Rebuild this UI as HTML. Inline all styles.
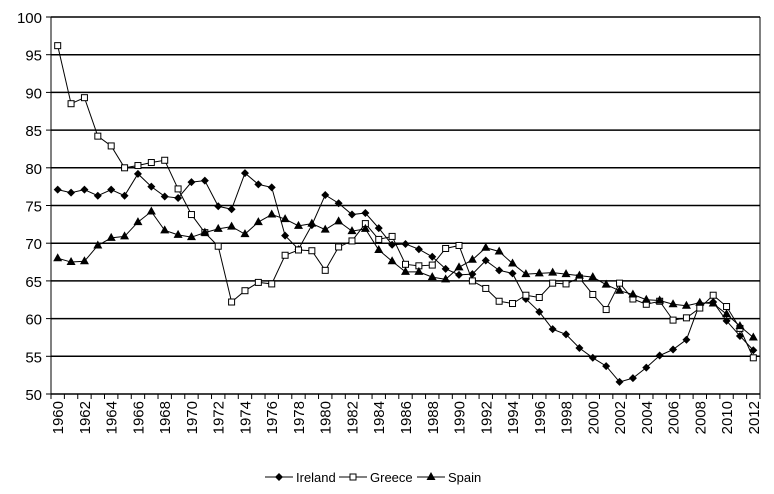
<!DOCTYPE html>
<html><head><meta charset="utf-8"><style>body{margin:0;background:#fff}svg{display:block;font-family:"Liberation Sans",sans-serif}</style></head>
<body>
<svg id="c" width="774" height="494"></svg>
<script>
const years=[];for(let y=1960;y<=2012;y++)years.push(y);
const yTicks=[50,55,60,65,70,75,80,85,90,95,100];
const ireland=[77.1,76.7,77.1,76.3,77.1,76.3,79.2,77.5,76.2,76.0,78.1,78.3,74.9,74.5,79.3,77.8,77.4,71.0,69.2,72.4,76.4,75.3,73.8,74.0,72.0,69.8,69.9,69.2,68.2,66.6,65.8,65.9,67.7,66.4,66.0,62.6,60.9,58.6,57.9,56.1,54.8,53.7,51.6,52.1,53.5,55.1,55.9,57.2,62.0,62.2,59.7,57.7,55.8];
const greece=[96.2,88.5,89.3,84.2,82.9,80.0,80.3,80.7,81.0,77.2,73.8,71.4,69.6,62.2,63.7,64.8,64.6,68.4,69.1,69.0,66.4,69.5,70.3,72.6,70.5,70.9,67.2,67.0,67.1,69.3,69.7,65.0,64.0,62.3,62.0,63.1,62.8,64.7,64.6,65.4,63.2,61.2,64.7,62.6,61.9,62.3,59.8,60.1,61.4,63.1,61.6,58.7,54.8];
const spain=[68.0,67.5,67.6,69.7,70.7,70.9,72.8,74.2,71.7,71.1,70.8,71.4,71.9,72.2,71.2,72.8,73.8,73.2,72.3,72.6,71.8,72.9,71.6,71.9,69.1,67.6,66.2,66.2,65.5,65.2,66.8,67.8,69.4,68.9,67.3,65.9,66.0,66.1,65.9,65.7,65.5,64.5,63.7,63.2,62.5,62.4,61.9,61.7,62.1,62.0,60.6,59.0,57.5];
const NS="http://www.w3.org/2000/svg",svg=document.getElementById('c');
const L=51,R=760,T=17,B=394,step=(R-L)/years.length;
const xS=i=>L+step*(i+0.5), yS=v=>B-(v-50)/50*(B-T);
function mk(t,a,p){const e=document.createElementNS(NS,t);for(const k in a)e.setAttribute(k,a[k]);(p||svg).appendChild(e);return e;}
yTicks.forEach(v=>{
 const g=mk('line',{x1:L,x2:R,y1:yS(v),y2:yS(v),stroke:'#000','stroke-width':1.5});
 
 
 const t=mk('text',{x:42,y:yS(v)+6,'text-anchor':'end','font-size':15});t.textContent=v;
 
 
 mk('line',{x1:L-5,x2:L,y1:yS(v),y2:yS(v),stroke:'#000'});
});
mk('line',{x1:L,x2:L,y1:T,y2:B,stroke:'#000'});
mk('line',{x1:R,x2:R,y1:T,y2:B,stroke:'#000'});
for(let i=0;i<=years.length;i++)mk('line',{x1:L+step*i,x2:L+step*i,y1:B,y2:B+5,stroke:'#000'});
years.forEach((y,i)=>{if(i%2)return;
 const t=mk('text',{x:0,y:0,'text-anchor':'end','font-size':15,transform:`translate(${xS(i)+5.5},${401}) rotate(-90)`});t.textContent=y;
 
 
});
function marker(type,x,y,p){
 if(type==='d')return mk('polygon',{points:`${x},${y-4} ${x+4},${y} ${x},${y+4} ${x-4},${y}`,fill:'#000'},p);
 if(type==='s')return mk('rect',{x:x-3,y:y-3,width:6,height:6,fill:'#fff',stroke:'#000'},p);
 return mk('polygon',{points:`${x},${y-5} ${x+4.5},${y+3} ${x-4.5},${y+3}`,fill:'#000'},p);
}
function series(name,data,type){
 const g=mk('g',{});
 
 
 mk('polyline',{points:data.map((v,i)=>xS(i)+','+yS(v)).join(' '),fill:'none',stroke:'#000','stroke-width':1},g);
 data.forEach((v,i)=>{const m=marker(type,xS(i),yS(v),g);
  
  });
}
series('ireland',ireland,'d');series('greece',greece,'s');series('spain',spain,'t');
[['Ireland',265,'d'],['Greece',339,'s'],['Spain',417,'t']].forEach(([n,x,t])=>{
 const g=mk('g',{});
 
 
 mk('line',{x1:x,x2:x+28,y1:477,y2:477,stroke:'#000'},g);marker(t,x+14,477,g);
 const tx=mk('text',{x:x+31,y:482,'font-size':13},g);tx.textContent=n;
});
</script>
</body></html>
